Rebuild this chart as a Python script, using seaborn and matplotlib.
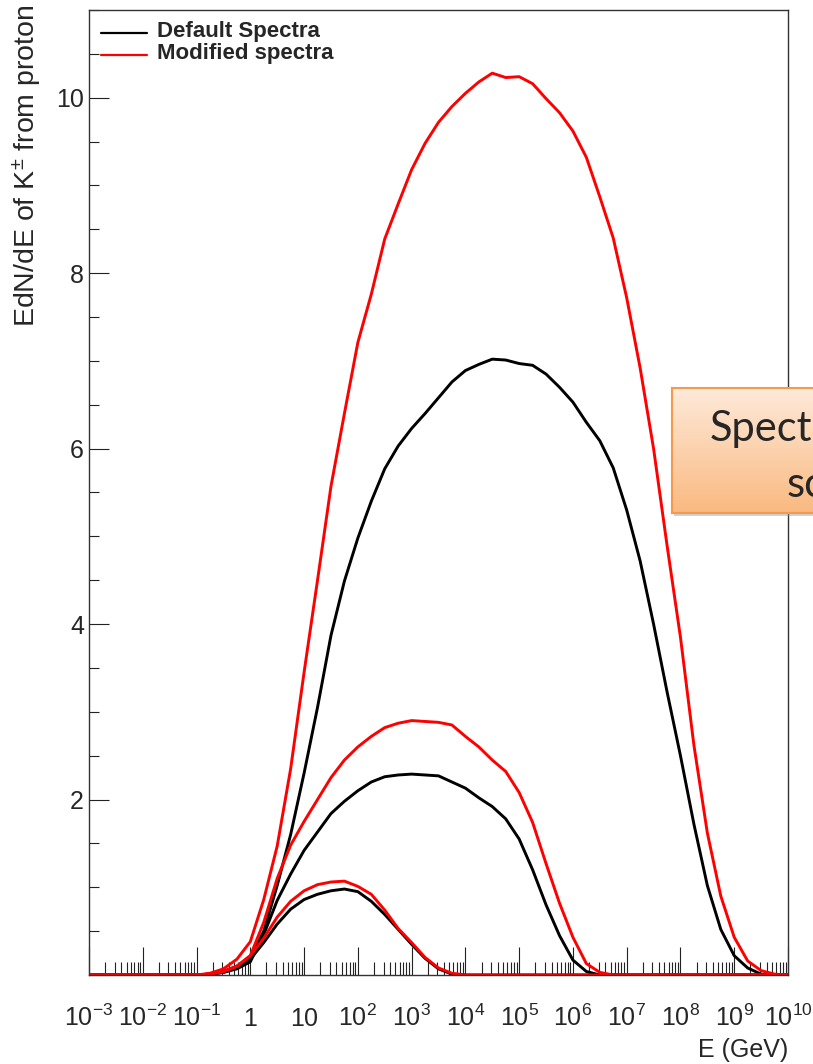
import numpy as np
import pandas as pd
import matplotlib
matplotlib.use("Agg")
import matplotlib.pyplot as plt
import matplotlib.ticker as mticker
from matplotlib.lines import Line2D
from matplotlib.patches import Rectangle
import seaborn as sns

# log10(E / GeV) sample points shared by all six spectra
log_energy = [-3.0, -1.0, -0.75, -0.5, -0.25, 0.0, 0.25, 0.5, 0.75, 1.0, 1.25, 1.5,
              1.75, 2.0, 2.25, 2.5, 2.75, 3.0, 3.25, 3.5, 3.75, 4.0, 4.25, 4.5,
              4.75, 5.0, 5.25, 5.5, 5.75, 6.0, 6.25, 6.5, 6.75, 7.0, 7.25, 7.5,
              7.75, 8.0, 8.25, 8.5, 8.75, 9.0, 9.25, 9.5, 9.75, 10.0]

# EdN/dE of K+- for three primary proton energies, default and modified
low_default = [0, 0, 0.01, 0.03, 0.08, 0.18, 0.37, 0.58, 0.75, 0.86, 0.92, 0.96,
               0.98, 0.95, 0.84, 0.69, 0.52, 0.35, 0.19, 0.07, 0.01, 0, 0, 0,
               0, 0, 0, 0, 0, 0, 0, 0, 0, 0, 0, 0,
               0, 0, 0, 0, 0, 0, 0, 0, 0, 0]
low_modified = [0, 0, 0.01, 0.04, 0.10, 0.22, 0.42, 0.66, 0.84, 0.96, 1.03, 1.06,
                1.07, 1.01, 0.92, 0.74, 0.53, 0.37, 0.20, 0.08, 0.02, 0, 0, 0,
                0, 0, 0, 0, 0, 0, 0, 0, 0, 0, 0, 0,
                0, 0, 0, 0, 0, 0, 0, 0, 0, 0]
mid_default = [0, 0, 0.01, 0.03, 0.07, 0.15, 0.46, 0.85, 1.15, 1.42, 1.63, 1.84,
               1.98, 2.10, 2.20, 2.26, 2.28, 2.29, 2.28, 2.27, 2.20, 2.13, 2.02, 1.92,
               1.78, 1.55, 1.20, 0.80, 0.45, 0.17, 0.04, 0, 0, 0, 0, 0,
               0, 0, 0, 0, 0, 0, 0, 0, 0, 0]
mid_modified = [0, 0, 0.01, 0.04, 0.10, 0.22, 0.60, 1.10, 1.48, 1.75, 2.00, 2.25,
                2.45, 2.60, 2.72, 2.82, 2.87, 2.90, 2.89, 2.88, 2.85, 2.72, 2.60, 2.45,
                2.32, 2.08, 1.74, 1.27, 0.82, 0.43, 0.13, 0.03, 0, 0, 0, 0,
                0, 0, 0, 0, 0, 0, 0, 0, 0, 0]
high_default = [0, 0, 0.01, 0.04, 0.10, 0.20, 0.50, 1.02, 1.60, 2.30, 3.05, 3.87,
                4.49, 4.98, 5.40, 5.77, 6.03, 6.23, 6.40, 6.58, 6.76, 6.89, 6.96, 7.02,
                7.01, 6.97, 6.95, 6.85, 6.70, 6.53, 6.30, 6.09, 5.78, 5.30, 4.72, 4.00,
                3.23, 2.50, 1.72, 1.02, 0.52, 0.22, 0.08, 0.01, 0, 0]
high_modified = [0, 0, 0.02, 0.07, 0.18, 0.38, 0.86, 1.47, 2.35, 3.45, 4.50, 5.57,
                 6.40, 7.21, 7.76, 8.39, 8.79, 9.18, 9.48, 9.72, 9.90, 10.05, 10.18, 10.28,
                 10.23, 10.24, 10.16, 9.99, 9.83, 9.62, 9.32, 8.87, 8.40, 7.72, 6.92, 6.00,
                 4.90, 3.85, 2.62, 1.62, 0.90, 0.43, 0.16, 0.05, 0.01, 0]

series = {
    "low default": (low_default, "black"),
    "mid default": (mid_default, "black"),
    "high default": (high_default, "black"),
    "low modified": (low_modified, "#ff0000"),
    "mid modified": (mid_modified, "#ff0000"),
    "high modified": (high_modified, "#ff0000"),
}

x_tick_exp = [-3, -2, -1, 0, 1, 2, 3, 4, 5, 6, 7, 8, 9, 10]
x_tick_labels = [r"$10^{-3}$", r"$10^{-2}$", r"$10^{-1}$", r"$1$", r"$10$", r"$10^{2}$",
                 r"$10^{3}$", r"$10^{4}$", r"$10^{5}$", r"$10^{6}$", r"$10^{7}$",
                 r"$10^{8}$", r"$10^{9}$", r"$10^{10}$"]
y_tick_values = [2, 4, 6, 8, 10]
legend_labels = ["Default Spectra", "Modified spectra"]

energy = 10.0 ** np.array(log_energy)
df = pd.concat(
    [pd.DataFrame({"E": energy, "EdNdE": vals, "curve": name})
     for name, (vals, _) in series.items()],
    ignore_index=True,
)
palette = {name: col for name, (_, col) in series.items()}

sns.set_style("white")
plt.rcParams["font.family"] = ["Liberation Sans", "DejaVu Sans"]
plt.rcParams["mathtext.fontset"] = "custom"
plt.rcParams["mathtext.rm"] = "Liberation Sans"
plt.rcParams["mathtext.it"] = "Liberation Sans:italic"
plt.rcParams["mathtext.bf"] = "Liberation Sans:bold"

W, H = 813, 1064
PT = 72.0 / 100.0  # points per pixel at dpi 100
fig = plt.figure(figsize=(W / 100, H / 100), dpi=100)
ax = fig.add_axes([89 / W, 1 - 975 / H, (788 - 89) / W, (975 - 10) / H])

sns.lineplot(data=df, x="E", y="EdNdE", hue="curve", palette=palette,
             estimator=None, sort=False, legend=False, linewidth=2.1, ax=ax)

ax.set_xscale("log")
ax.set_xlim(1e-3, 1e10)
ax.set_ylim(0, 11.0)
ax.set_xlabel("")
ax.set_ylabel("")

ax.xaxis.set_major_locator(mticker.FixedLocator([10.0 ** k for k in x_tick_exp]))
ax.xaxis.set_major_formatter(mticker.FixedFormatter(x_tick_labels))
ax.xaxis.set_minor_locator(mticker.LogLocator(base=10, subs=np.arange(2, 10), numticks=40))
ax.xaxis.set_minor_formatter(mticker.NullFormatter())
ax.yaxis.set_major_locator(mticker.FixedLocator([0] + y_tick_values))
ax.yaxis.set_major_formatter(mticker.FuncFormatter(lambda v, p: "" if v == 0 else f"{v:g}"))
ax.yaxis.set_minor_locator(mticker.MultipleLocator(0.5))

ax.tick_params(axis="x", which="major", direction="in", length=28 * PT, width=0.8,
               color="#222222", labelsize=18, pad=51 * PT, bottom=True, top=False)
ax.tick_params(axis="x", which="minor", direction="in", length=13 * PT, width=0.8,
               color="#222222", bottom=True, top=False)
ax.tick_params(axis="y", which="major", direction="in", length=20 * PT, width=0.8,
               color="#222222", labelsize=18, pad=5 * PT, left=True, right=False)
ax.tick_params(axis="y", which="minor", direction="in", length=10 * PT, width=0.8,
               color="#222222", left=True, right=False)
for lbl in ax.get_xticklabels():
    lbl.set_va("baseline")

for side in ["left", "right", "top", "bottom"]:
    ax.spines[side].set_visible(True)
    ax.spines[side].set_color("#333333")
    ax.spines[side].set_linewidth(1.0)

# axis titles, ROOT style: aligned to the axis ends
fig.text(788 / W, 1 - 1057 / H, "E (GeV)", ha="right", va="baseline", fontsize=18)
fig.text(27 / W, 1 - 4 / H, r"EdN/dE of K$^{\pm}$ from proton", rotation=90,
         ha="center", va="top", fontsize=20.5)

# legend
for i, (label, col) in enumerate(zip(legend_labels, ["black", "#ff0000"])):
    yy = 1 - (33 + 22 * i) / H
    fig.add_artist(Line2D([101 / W, 147 / W], [yy, yy], color=col, lw=1.6,
                          transform=fig.transFigure))
    fig.text(157 / W, 1 - (31 + 22 * i) / H, label, ha="left", va="center",
             fontsize=16, fontweight="bold")

# annotation callout box with vertical gradient
bx0, by0, bx1, by1 = 672, 388, 840, 513
shadow = Rectangle(((bx0 + 2) / W, 1 - (by1 + 3) / H), (bx1 - bx0) / W, (by1 - by0) / H,
                   transform=fig.transFigure, facecolor="#9a9a9a", alpha=0.45,
                   edgecolor="none", zorder=5)
fig.add_artist(shadow)
bax = fig.add_axes([bx0 / W, 1 - by1 / H, (bx1 - bx0) / W, (by1 - by0) / H], zorder=6)
top_rgb = np.array([254, 234, 218]) / 255.0
bot_rgb = np.array([250, 185, 128]) / 255.0
t = np.linspace(0, 1, 256)[:, None]
grad = (top_rgb[None, :] * (1 - t) + bot_rgb[None, :] * t)[:, None, :]
bax.imshow(grad, aspect="auto", extent=[0, 1, 0, 1], origin="upper")
bax.set_xticks([])
bax.set_yticks([])
for side in bax.spines.values():
    side.set_color("#f39a4f")
    side.set_linewidth(1.5)
fig.text(710 / W, 1 - 441 / H, "Spectra", ha="left", va="baseline", fontsize=30,
         family="Lato", zorder=7)
fig.text(787 / W, 1 - 497 / H, "scaled", ha="left", va="baseline", fontsize=30,
         family="Lato", zorder=7)

fig.savefig("out.png", dpi=100)
